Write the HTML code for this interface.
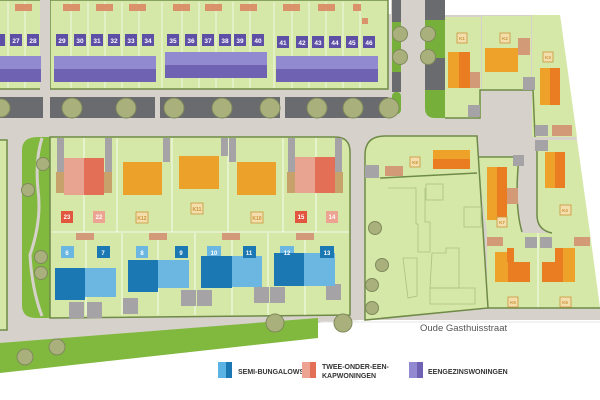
<!DOCTYPE html>
<html><head><meta charset="utf-8"><style>
html,body{margin:0;padding:0;background:#fff;width:600px;height:400px;overflow:hidden}
svg{display:block}
text{font-family:"Liberation Sans",sans-serif;font-weight:bold}
</style></head><body>
<svg width="600" height="400" viewBox="0 0 600 400" xmlns="http://www.w3.org/2000/svg">
<rect x="0" y="0" width="600" height="400" fill="#fff"/>
<polygon points="0,0 445,0 445,15 560,15 600,310 600,320 360,320 0,345" fill="#d7d1cb"/>
<rect x="365" y="0" width="26" height="14" fill="#fff"/>
<polygon points="0,343 318,318 318,338 0,373" fill="#80b93e"/>
<line x1="320" y1="322" x2="600" y2="322" stroke="#e6e6e6" stroke-width="1"/>

<!-- top blocks -->
<g fill="#d6e8a8" stroke="#6f8a48" stroke-width="1.5">
<rect x="-2" y="0" width="44" height="89"/>
<rect x="50" y="0" width="338" height="89"/>
</g>
<rect x="40" y="0" width="10" height="92" fill="#d7d1cb"/>
<g stroke="#fff" stroke-width="0.8" opacity="0.8">
<line x1="8" y1="2" x2="8" y2="88"/><line x1="25" y1="2" x2="25" y2="88"/>
<line x1="71" y1="2" x2="71" y2="88"/><line x1="88" y1="2" x2="88" y2="88"/><line x1="105" y1="2" x2="105" y2="88"/><line x1="122" y1="2" x2="122" y2="88"/><line x1="139" y1="2" x2="139" y2="88"/>
<line x1="162" y1="2" x2="162" y2="88"/><line x1="182" y1="2" x2="182" y2="88"/><line x1="199" y1="2" x2="199" y2="88"/><line x1="216" y1="2" x2="216" y2="88"/><line x1="233" y1="2" x2="233" y2="88"/><line x1="250" y1="2" x2="250" y2="88"/>
<line x1="274" y1="2" x2="274" y2="88"/><line x1="292" y1="2" x2="292" y2="88"/><line x1="309" y1="2" x2="309" y2="88"/><line x1="326" y1="2" x2="326" y2="88"/><line x1="343" y1="2" x2="343" y2="88"/><line x1="360" y1="2" x2="360" y2="88"/>
</g>
<g fill="#d9926a">
<rect x="15" y="4" width="17" height="7"/><rect x="63" y="4" width="17" height="7"/><rect x="96" y="4" width="17" height="7"/><rect x="129" y="4" width="17" height="7"/>
<rect x="173" y="4" width="17" height="7"/><rect x="205" y="4" width="17" height="7"/><rect x="240" y="4" width="17" height="7"/>
<rect x="283" y="4" width="17" height="7"/><rect x="318" y="4" width="17" height="7"/><rect x="353" y="4" width="8" height="7"/><rect x="362" y="18" width="6" height="6"/>
</g>
<g>
<rect x="0" y="56" width="41" height="13" fill="#928ad0"/><rect x="0" y="69" width="41" height="13" fill="#6f62b2"/>
<rect x="54" y="56" width="102" height="13" fill="#928ad0"/><rect x="54" y="69" width="102" height="13" fill="#6f62b2"/>
<rect x="165" y="52" width="102" height="13" fill="#928ad0"/><rect x="165" y="65" width="102" height="13" fill="#6f62b2"/>
<rect x="276" y="56" width="102" height="13" fill="#928ad0"/><rect x="276" y="69" width="102" height="13" fill="#6f62b2"/>
</g>
<g fill="#5e4fa6">
<rect x="0" y="34" width="5" height="12"/><rect x="10" y="34" width="12" height="12"/><rect x="27" y="34" width="12" height="12"/>
<rect x="56" y="34" width="12" height="12"/><rect x="74" y="34" width="12" height="12"/><rect x="91" y="34" width="12" height="12"/><rect x="108" y="34" width="12" height="12"/><rect x="125" y="34" width="12" height="12"/><rect x="142" y="34" width="12" height="12"/>
<rect x="167" y="34" width="12" height="12"/><rect x="185" y="34" width="12" height="12"/><rect x="202" y="34" width="12" height="12"/><rect x="219" y="34" width="12" height="12"/><rect x="234" y="34" width="12" height="12"/><rect x="252" y="34" width="12" height="12"/>
<rect x="277" y="36" width="12" height="12"/><rect x="296" y="36" width="12" height="12"/><rect x="312" y="36" width="12" height="12"/><rect x="329" y="36" width="12" height="12"/><rect x="346" y="36" width="12" height="12"/><rect x="363" y="36" width="12" height="12"/>
</g>
<g fill="#fff" font-size="6.5" text-anchor="middle">
<text x="16" y="43">27</text><text x="33" y="43">28</text>
<text x="62" y="43">29</text><text x="80" y="43">30</text><text x="97" y="43">31</text><text x="114" y="43">32</text><text x="131" y="43">33</text><text x="148" y="43">34</text>
<text x="173" y="43">35</text><text x="191" y="43">36</text><text x="208" y="43">37</text><text x="225" y="43">38</text><text x="240" y="43">39</text><text x="258" y="43">40</text>
<text x="283" y="45">41</text><text x="302" y="45">42</text><text x="318" y="45">43</text><text x="335" y="45">44</text><text x="352" y="45">45</text><text x="369" y="45">46</text>
</g>
<g fill="#6a6b6e">
<rect x="0" y="97" width="43" height="21"/><rect x="50" y="97" width="105" height="21"/><rect x="160" y="97" width="120" height="21"/><rect x="285" y="97" width="103" height="21"/>
<rect x="392" y="0" width="9" height="92"/><rect x="425" y="0" width="20" height="90"/>
</g>
<g fill="#76b03a">
<rect x="392" y="22" width="9" height="50"/><rect x="392" y="92" width="9" height="22" rx="4"/>
<rect x="425" y="20" width="20" height="38"/><path d="M425,90 H445 V118 H435 Q425,118 425,108 Z"/>
</g>
<g fill="#a9b07c" stroke="#7f8a5c" stroke-width="1">
<circle cx="1" cy="108" r="9"/><circle cx="72" cy="108" r="10"/><circle cx="126" cy="108" r="10"/><circle cx="174" cy="108" r="10"/><circle cx="222" cy="108" r="10"/><circle cx="270" cy="108" r="10"/><circle cx="317" cy="108" r="10"/><circle cx="353" cy="108" r="10"/><circle cx="389" cy="108" r="10"/>
<circle cx="400" cy="34" r="7.5"/><circle cx="400" cy="57" r="7.5"/><circle cx="428" cy="34" r="7.5"/><circle cx="428" cy="57" r="7.5"/>
</g>

<rect x="-2" y="140" width="9" height="190" fill="#d6e8a8" stroke="#6f8a48" stroke-width="1.5"/>
<path d="M22,150 Q22,137 38,137 L50,137 L50,318 L36,318 Q22,318 22,305 Z" fill="#80b93e"/>
<path d="M42,138 Q35,160 38,190 Q42,220 30,255 Q32,290 42,316" stroke="#d7d1cb" stroke-width="3" fill="none"/>
<path d="M50,137 H335 Q350,137 350,152 V315 L50,318 Z" fill="#d6e8a8" stroke="#6f8a48" stroke-width="1.5"/>
<g stroke="#fff" stroke-width="0.8">
<line x1="84" y1="138" x2="84" y2="232"/><line x1="117" y1="138" x2="117" y2="232"/><line x1="172" y1="138" x2="172" y2="232"/><line x1="228" y1="138" x2="228" y2="232"/><line x1="283" y1="138" x2="283" y2="232"/><line x1="316" y1="138" x2="316" y2="232"/>
<line x1="52" y1="232" x2="349" y2="232"/>
<line x1="86" y1="233" x2="86" y2="315"/><line x1="122" y1="233" x2="122" y2="315"/><line x1="158" y1="233" x2="158" y2="315"/><line x1="195" y1="233" x2="195" y2="315"/><line x1="232" y1="233" x2="232" y2="315"/><line x1="268" y1="233" x2="268" y2="315"/><line x1="305" y1="233" x2="305" y2="315"/>
</g>
<g fill="#a5a3a5">
<rect x="57" y="138" width="7" height="34"/><rect x="105" y="138" width="7" height="34"/><rect x="163" y="138" width="7" height="24"/><rect x="221" y="138" width="7" height="18"/><rect x="229" y="138" width="7" height="24"/><rect x="288" y="138" width="7" height="34"/><rect x="335" y="138" width="7" height="34"/>
<rect x="69" y="302" width="15" height="16"/><rect x="87" y="302" width="15" height="16"/><rect x="123" y="298" width="15" height="16"/><rect x="181" y="290" width="15" height="16"/><rect x="197" y="290" width="15" height="16"/><rect x="254" y="287" width="15" height="16"/><rect x="270" y="287" width="15" height="16"/><rect x="326" y="284" width="15" height="16"/>
</g>
<g fill="#c7a26a">
<rect x="56" y="172" width="8" height="21"/><rect x="104" y="172" width="8" height="21"/><rect x="287" y="172" width="8" height="21"/><rect x="335" y="172" width="8" height="21"/>
</g>
<rect x="64" y="158" width="20" height="37" fill="#e8a391"/><rect x="84" y="158" width="20" height="37" fill="#e36f57"/>
<rect x="295" y="157" width="20" height="36" fill="#e8a391"/><rect x="315" y="157" width="20" height="36" fill="#e36f57"/>
<g fill="#eca22a"><rect x="123" y="162" width="39" height="33"/><rect x="179" y="156" width="40" height="33"/><rect x="237" y="162" width="39" height="33"/></g>
<g fill="#d29a78"><rect x="76" y="233" width="18" height="7"/><rect x="149" y="233" width="18" height="7"/><rect x="222" y="233" width="18" height="7"/><rect x="296" y="233" width="18" height="7"/></g>
<rect x="61" y="211" width="12" height="12" fill="#e2553e"/><rect x="93" y="211" width="12" height="12" fill="#eda391"/>
<rect x="295" y="211" width="12" height="12" fill="#e2553e"/><rect x="326" y="211" width="12" height="12" fill="#eda391"/>
<g fill="#f4deab" stroke="#c9933a" stroke-width="0.8"><rect x="136" y="212" width="12" height="11"/><rect x="191" y="203" width="12" height="11"/><rect x="251" y="212" width="12" height="11"/></g>
<g fill="#fff" font-size="6" text-anchor="middle"><text x="67" y="219">23</text><text x="99" y="219">22</text><text x="301" y="219">15</text><text x="332" y="219">14</text></g>
<g fill="#c9933a" font-size="5" text-anchor="middle"><text x="142" y="220">K12</text><text x="197" y="211">K11</text><text x="257" y="220">K10</text></g>
<g fill="#6cb6e2"><rect x="61" y="246" width="13" height="12"/><rect x="136" y="246" width="12" height="12"/><rect x="207" y="246" width="14" height="12"/><rect x="280" y="246" width="14" height="12"/>
<rect x="85" y="268" width="31" height="29"/><rect x="158" y="260" width="31" height="28"/><rect x="232" y="256" width="30" height="31"/><rect x="304" y="253" width="31" height="33"/></g>
<g fill="#1c78b2"><rect x="97" y="246" width="13" height="12"/><rect x="175" y="246" width="13" height="12"/><rect x="243" y="246" width="13" height="12"/><rect x="320" y="246" width="14" height="12"/>
<rect x="55" y="268" width="30" height="32"/><rect x="128" y="260" width="30" height="32"/><rect x="201" y="256" width="31" height="32"/><rect x="274" y="253" width="30" height="33"/></g>
<g fill="#fff" font-size="6" text-anchor="middle"><text x="67" y="255">6</text><text x="103" y="255">7</text><text x="142" y="255">8</text><text x="181" y="255">9</text><text x="214" y="255">10</text><text x="249" y="255">11</text><text x="287" y="255">12</text><text x="327" y="255">13</text></g>

<!-- right side lots -->
<g fill="#d6e8a8">
<rect x="445" y="17" width="36" height="101"/>
<rect x="482" y="16" width="49" height="74"/>
<polygon points="532,15 560,15 577,137 532,137"/>
<path d="M537,140 H577 L590,233 H552 Q537,230 537,215 Z"/>
<path d="M477,157 H520 Q515,200 522,233 H487 Z"/>
<polygon points="487,233 590,233 600,308 487,308"/>
</g>
<g stroke="#fff" stroke-width="0.8"><line x1="538" y1="233" x2="538" y2="308"/></g>
<path d="M445,118 H480 V90 H533 L535,137" stroke="#6f8a48" stroke-width="1.5" fill="none"/>
<path d="M537,140 V215 Q537,230 552,233" stroke="#6f8a48" stroke-width="1.5" fill="none"/>
<path d="M477,157 H519 Q514,205 522,232" stroke="#6f8a48" stroke-width="1.5" fill="none"/>
<path d="M487,308 H600" stroke="#6f8a48" stroke-width="1.5"/>
<!-- K8 and lower-left block -->
<path d="M365,320 V155 Q365,136 385,136 H477 L488,308 Z" fill="#d6e8a8" stroke="#6f8a48" stroke-width="1.5"/>
<line x1="380" y1="178" x2="477" y2="173" stroke="#6f8a48" stroke-width="1.5"/>
<g fill="none" stroke="#aac080" stroke-width="0.8">
<path d="M388,188 H416 V224 H418 V252 H430 V222 H425 V188"/><rect x="426" y="184" width="17" height="16"/><rect x="464" y="207" width="17" height="20"/>
<path d="M403,258 H417 V296 L408,298 Z"/><path d="M432,253 H446 V248 H459 V288 H430 Z"/><path d="M430,288 H475 V304 H430 Z"/>
</g>
<g fill="#a9b07c" stroke="#7f8a5c" stroke-width="1">
<circle cx="43" cy="164" r="6.5"/><circle cx="28" cy="190" r="6.5"/><circle cx="41" cy="257" r="6.5"/><circle cx="41" cy="273" r="6.5"/>
<circle cx="25" cy="357" r="8"/><circle cx="57" cy="347" r="8"/><circle cx="275" cy="323" r="9"/><circle cx="343" cy="323" r="9"/>
<circle cx="375" cy="228" r="6.5"/><circle cx="382" cy="265" r="6.5"/><circle cx="372" cy="285" r="6.5"/><circle cx="372" cy="308" r="6.5"/>
</g>
<g fill="#eea22a"><rect x="448" y="52" width="11" height="36"/><rect x="485" y="48" width="33" height="24"/><rect x="540" y="68" width="10" height="37"/><rect x="545" y="152" width="10" height="36"/><rect x="433" y="150" width="37" height="9"/><rect x="487" y="167" width="10" height="53"/><rect x="495" y="252" width="13" height="30"/><rect x="563" y="248" width="12" height="34"/></g>
<g fill="#ea7c22"><rect x="459" y="52" width="11" height="36"/><rect x="550" y="68" width="10" height="37"/><rect x="555" y="152" width="10" height="36"/><rect x="433" y="159" width="37" height="10"/><rect x="497" y="167" width="10" height="53"/><rect x="508" y="262" width="22" height="20"/><rect x="542" y="262" width="21" height="20"/><rect x="507" y="248" width="7" height="14"/><rect x="555" y="248" width="8" height="14"/></g>
<g fill="#d39a77"><rect x="470" y="72" width="10" height="16"/><rect x="518" y="38" width="12" height="17"/><rect x="552" y="125" width="20" height="11"/><rect x="385" y="166" width="18" height="10"/><rect x="507" y="188" width="11" height="16"/><rect x="487" y="237" width="16" height="9"/><rect x="574" y="237" width="16" height="9"/></g>
<g fill="#a5a3a5"><rect x="468" y="105" width="12" height="12"/><rect x="523" y="77" width="12" height="13"/><rect x="535" y="125" width="13" height="11"/><rect x="535" y="140" width="13" height="11"/><rect x="365" y="165" width="14" height="13"/><rect x="513" y="155" width="11" height="11"/><rect x="525" y="237" width="12" height="11"/><rect x="540" y="237" width="12" height="11"/></g>
<g fill="#f4deab" stroke="#c9933a" stroke-width="0.8"><rect x="457" y="33" width="10" height="10"/><rect x="500" y="33" width="10" height="10"/><rect x="543" y="52" width="10" height="10"/><rect x="410" y="157" width="10" height="10"/><rect x="497" y="217" width="10" height="10"/><rect x="560" y="205" width="11" height="10"/><rect x="508" y="297" width="10" height="10"/><rect x="560" y="297" width="11" height="10"/></g>
<g fill="#c9933a" font-size="4.5" text-anchor="middle"><text x="462" y="40">K1</text><text x="505" y="40">K2</text><text x="548" y="59">K3</text><text x="415" y="164">K8</text><text x="502" y="224">K7</text><text x="565" y="212">K4</text><text x="513" y="304">K6</text><text x="565" y="304">K5</text></g>
<text x="420" y="331" font-size="9.5" fill="#555" style="font-weight:normal">Oude Gasthuisstraat</text>

<rect x="218" y="362" width="8" height="16" fill="#5ab3e3"/><rect x="226" y="362" width="6" height="16" fill="#1c78b2"/>
<text x="238" y="374" font-size="7" fill="#333">SEMI-BUNGALOWS</text>
<rect x="302" y="362" width="8" height="16" fill="#eda391"/><rect x="310" y="362" width="6" height="16" fill="#e36f57"/>
<text x="322" y="369" font-size="7" fill="#333">TWEE-ONDER-EEN-</text><text x="322" y="378" font-size="7" fill="#333">KAPWONINGEN</text>
<rect x="409" y="362" width="8" height="16" fill="#928ad0"/><rect x="417" y="362" width="6" height="16" fill="#6f62b2"/>
<text x="428" y="374" font-size="7" fill="#333">EENGEZINSWONINGEN</text>
</svg>
</body></html>
